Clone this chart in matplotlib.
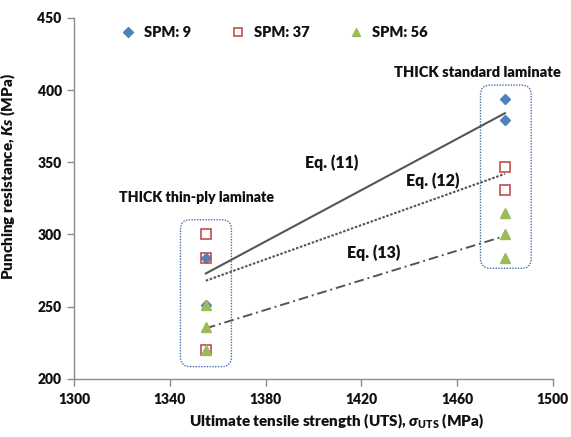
import matplotlib
matplotlib.use("Agg")
import matplotlib.pyplot as plt
from matplotlib.patches import FancyBboxPatch

W = 'heavy'
plt.rcParams['font.family'] = ['Lato', 'DejaVu Sans']
plt.rcParams['font.weight'] = W
plt.rcParams['mathtext.fontset'] = 'custom'
plt.rcParams['mathtext.rm'] = 'Lato:heavy'
plt.rcParams['mathtext.it'] = 'Lato:heavy:italic'
plt.rcParams['mathtext.bf'] = 'Lato:heavy'

# ---- data ----
uts_thin = 1355
uts_std = 1480
spm9_thin = [284, 251]
spm9_std = [394, 379]
spm37_thin = [300, 284, 220]
spm37_std = [347, 331]
spm56_thin = [251, 236, 220]
spm56_std = [315, 300, 284]

eq_uts = [1355, 1480]
eq11 = [273, 384]
eq12 = [268, 342]
eq13 = [235, 299]

xticks = [1300, 1340, 1380, 1420, 1460, 1500]
yticks = [200, 250, 300, 350, 400, 450]

c_blue = '#4F81BD'
c_red = '#C0504D'
c_green = '#9BBB59'
c_line = '#555555'
c_axis = '#8C8C8C'
c_txt = '#111111'

fig = plt.figure(figsize=(5.71, 4.37), dpi=100)
ax = fig.add_axes([0.130, 0.133, 0.838, 0.826])

ax.plot([uts_thin] * len(spm9_thin) + [uts_std] * len(spm9_std), spm9_thin + spm9_std,
        linestyle='none', marker='D', ms=5.5, color=c_blue, mec=c_blue, label='SPM: 9', zorder=3)
ax.plot([uts_thin] * len(spm37_thin) + [uts_std] * len(spm37_std), spm37_thin + spm37_std,
        linestyle='none', marker='s', ms=6.5, mfc='none', mec=c_red, mew=1.2, label='SPM: 37', zorder=4)
ax.plot([uts_thin] * len(spm56_thin) + [uts_std] * len(spm56_std), spm56_thin + spm56_std,
        linestyle='none', marker='^', ms=7.5, color=c_green, mec=c_green, label='SPM: 56', zorder=5)

ax.plot(eq_uts, eq11, color=c_line, lw=1.5, linestyle='-', zorder=2)
ax.plot(eq_uts, eq12, color=c_line, lw=1.5, linestyle=(0, (1.2, 0.8)), zorder=2)
ax.plot(eq_uts, eq13, color=c_line, lw=1.4, linestyle=(0, (5, 2, 1, 2)), zorder=2)

# rounded dotted boxes
for (x0, y0, w, h) in [(1344.4, 208.5, 21.3, 101.7), (1469.8, 276.6, 21.2, 126.9)]:
    box = FancyBboxPatch((x0, y0), w, h, boxstyle="round,pad=0,rounding_size=4",
                         mutation_aspect=1.67, fill=False, ec='#4A6FA5', lw=1.0,
                         linestyle=(0, (1, 1)), zorder=1, clip_on=False)
    ax.add_patch(box)

tkw = dict(fontweight=W, color=c_txt, ha='center', va='center')
ax.text(1351, 325.7, 'THICK thin-ply laminate', fontsize=10.2, clip_on=False, **tkw)
ax.text(1468.5, 412.5, 'THICK standard laminate', fontsize=10.5, clip_on=False, **tkw)
ax.text(1407.5, 349.5, 'Eq. (11)', fontsize=11.5, **tkw)
ax.text(1450, 337.5, 'Eq. (12)', fontsize=11.5, **tkw)
ax.text(1425, 287.5, 'Eq. (13)', fontsize=11.5, **tkw)

ax.set_xlim(1300, 1500)
ax.set_ylim(200, 450)
ax.set_xticks(xticks)
ax.set_yticks(yticks)
ax.set_xticklabels([str(v) for v in xticks])
ax.set_yticklabels([str(v) for v in yticks])

for s in ['top', 'right']:
    ax.spines[s].set_visible(False)
for s in ['left', 'bottom']:
    ax.spines[s].set_color(c_axis)
    ax.spines[s].set_linewidth(1.0)
ax.tick_params(axis='both', colors=c_axis, length=5, width=1.0, labelsize=10,
               labelcolor=c_txt)
ax.tick_params(axis='x', pad=5)
ax.tick_params(axis='y', pad=4)
for lbl in ax.get_xticklabels() + ax.get_yticklabels():
    lbl.set_fontweight(W)

ax.set_xlabel(r'Ultimate tensile strength (UTS), $\sigma_{\mathrm{UTS}}$ (MPa)',
              fontsize=11, fontweight=W, color=c_txt)
ax.xaxis.set_label_coords(0.549, -0.092)
ax.set_ylabel(r'Punching resistance, $\mathit{Ks}$ (MPa)',
              fontsize=11, fontweight=W, color=c_txt)
ax.yaxis.set_label_coords(-0.117, 0.56)

leg = ax.legend(loc='upper left', bbox_to_anchor=(0.07, 1.015), ncol=3, frameon=False,
                handletextpad=0.6, columnspacing=2.7, markerscale=0.85,
                handlelength=1.0, prop={'weight': W, 'size': 10.5})
for t in leg.get_texts():
    t.set_color(c_txt)

fig.savefig('out.png', dpi=100)
